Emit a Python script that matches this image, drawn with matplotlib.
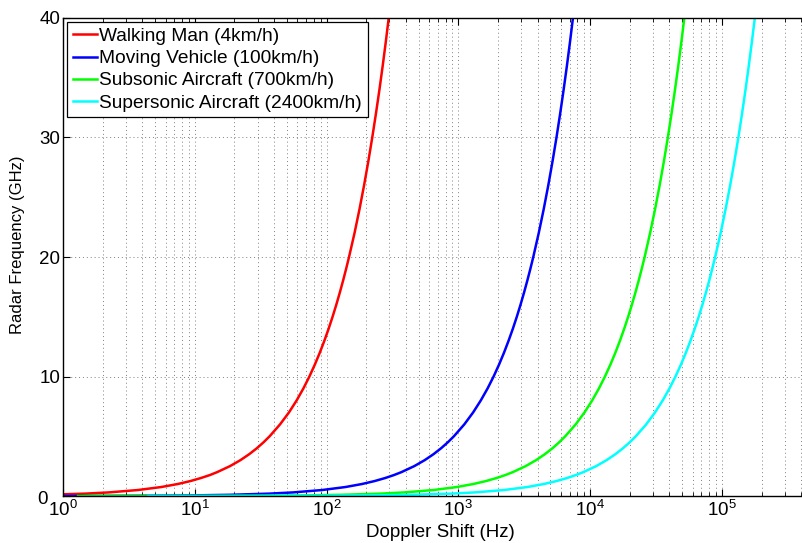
"""
Radar frequency vs Doppler shift for a few typical target speeds.
"""
import matplotlib
matplotlib.use("Agg")
import matplotlib.pyplot as plt

plt.rcParams["font.family"] = ["Liberation Sans", "DejaVu Sans"]
plt.rcParams["mathtext.fontset"] = "custom"
plt.rcParams["mathtext.rm"] = "Liberation Sans"
plt.rcParams["mathtext.it"] = "Liberation Sans"

# radar frequency samples (GHz)
freq_ghz = [0.001, 0.002, 0.005, 0.01, 0.02, 0.05, 0.1, 0.2, 0.3, 0.5, 0.75, 1,
            1.25, 1.5, 1.75, 2, 2.5, 3, 3.5, 4, 4.5, 5, 6, 7, 8, 9, 10, 11, 12, 13,
            14, 15, 16, 17, 18, 19, 20, 22, 24, 26, 28, 30, 32, 34, 36, 38, 40]

# Doppler shift (Hz) at those frequencies
walking_hz = [0.0074, 0.0148, 0.037, 0.074, 0.148, 0.370, 0.741, 1.48, 2.22, 3.70,
              5.56, 7.41, 9.26, 11.1, 13.0, 14.8, 18.5, 22.2, 25.9, 29.6, 33.3, 37.0,
              44.4, 51.9, 59.3, 66.7, 74.1, 81.5, 88.9, 96.3, 103.7, 111.1, 118.5,
              125.9, 133.3, 140.7, 148.1, 163.0, 177.8, 192.6, 207.4, 222.2, 237.0,
              251.9, 266.7, 281.5, 296.3]
vehicle_hz = [0.185, 0.370, 0.926, 1.85, 3.70, 9.26, 18.5, 37.0, 55.6, 92.6, 138.9,
              185.2, 231.5, 277.8, 324.1, 370.4, 463.0, 555.6, 648.1, 740.7, 833.3,
              925.9, 1111, 1296, 1481, 1667, 1852, 2037, 2222, 2407, 2593, 2778, 2963,
              3148, 3333, 3519, 3704, 4074, 4444, 4815, 5185, 5556, 5926, 6296, 6667,
              7037, 7407]
subsonic_hz = [1.30, 2.59, 6.48, 13.0, 25.9, 64.8, 129.6, 259.3, 388.9, 648.1, 972.2,
               1296, 1620, 1944, 2269, 2593, 3241, 3889, 4537, 5185, 5833, 6481, 7778,
               9074, 10370, 11667, 12963, 14259, 15556, 16852, 18148, 19444, 20741,
               22037, 23333, 24630, 25926, 28519, 31111, 33704, 36296, 38889, 41481,
               44074, 46667, 49259, 51852]
supersonic_hz = [4.44, 8.89, 22.2, 44.4, 88.9, 222.2, 444.4, 888.9, 1333, 2222, 3333,
                 4444, 5556, 6667, 7778, 8889, 11111, 13333, 15556, 17778, 20000, 22222,
                 26667, 31111, 35556, 40000, 44444, 48889, 53333, 57778, 62222, 66667,
                 71111, 75556, 80000, 84444, 88889, 97778, 106667, 115556, 124444,
                 133333, 142222, 151111, 160000, 168889, 177778]

labels = ["Walking Man (4km/h)", "Moving Vehicle (100km/h)",
          "Subsonic Aircraft (700km/h)", "Supersonic Aircraft (2400km/h)"]
colors = ["#ff0000", "#0000ff", "#00ff00", "#00ffff"]
yticks = [0, 10, 20, 30, 40]

W, H = 802, 543
fig = plt.figure(figsize=(W / 100, H / 100), dpi=100)
# axes runs a bit past the right edge of the image, as in the original
x0, x1, y0, y1 = 63, 814, 18, 496
ax = fig.add_axes([x0 / W, 1 - y1 / H, (x1 - x0) / W, (y1 - y0) / H])

for xs, lab, c in zip([walking_hz, vehicle_hz, subsonic_hz, supersonic_hz], labels, colors):
    ax.plot(xs, freq_ghz, color=c, lw=1.8, label=lab)

ax.set_xscale("log")
ax.set_xlim(1, 5e5)
ax.set_ylim(0, 40)
# the "0" is drawn separately, lower-left, clear of the 10^0 label
ax.set_yticks(yticks, ["" if v == 0 else str(v) for v in yticks])
ax.annotate("0", xy=(0, 0), xycoords="axes fraction", xytext=(-15, -4),
            textcoords="offset pixels", ha="right", va="center", fontsize=13.5)

ax.grid(which="major", axis="both", ls=(0, (1, 3)), color="0.5", lw=0.7)
ax.grid(which="minor", axis="x", ls=(0, (1, 3)), color="0.5", lw=0.7)
ax.tick_params(which="both", direction="in", top=True, right=True, labelsize=13.5)
ax.tick_params(which="major", length=5, width=0.8)
ax.tick_params(axis="y", pad=2)
ax.tick_params(axis="x", pad=3)
ax.tick_params(which="minor", length=3, width=0.6)
for s in ax.spines.values():
    s.set_linewidth(1.0)

ax.set_xlabel("Doppler Shift (Hz)", fontsize=13.5)
ax.set_ylabel("Radar Frequency (GHz)", fontsize=12)
ax.xaxis.set_label_coords(0.502, -0.058)
ax.yaxis.set_label_coords(-0.05, 0.525)

leg = ax.legend(loc="upper left", fontsize=13.8, handlelength=1.25, handletextpad=0.15,
                borderpad=0.3, labelspacing=0.25, borderaxespad=0.2,
                fancybox=False, framealpha=1)
leg.get_frame().set_edgecolor("black")
leg.get_frame().set_linewidth(0.9)

fig.savefig("out.png", dpi=100)
